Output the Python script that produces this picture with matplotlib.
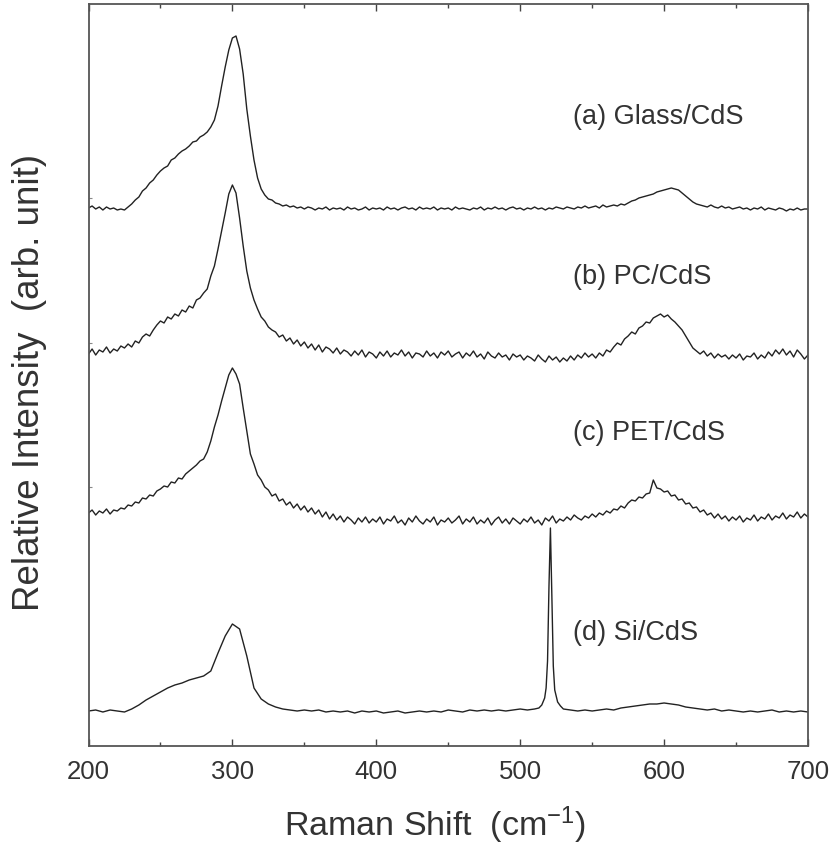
import numpy as np
import matplotlib
matplotlib.use("Agg")
import matplotlib.pyplot as plt
from matplotlib.ticker import MultipleLocator

plt.rcParams['font.family'] = ['Liberation Sans', 'DejaVu Sans']
plt.rcParams['mathtext.default'] = 'regular'

# raman shift grid (cm-1) for the three noisy spectra
shift = np.arange(200, 700.1, 2.5)

# (a) Glass/CdS, relative intensity (offset for stacking)
glass = [538, 540, 537, 539, 536, 539, 537, 538, 536, 537, 536, 539, 542, 546, 549, 555, 558, 563, 566, 571,
         575, 578, 580, 586, 588, 592, 595, 597, 600, 604, 605, 609, 611, 614, 619, 626, 640, 660, 679, 696,
         708, 710, 697, 672, 637, 610, 586, 568, 557, 551, 547, 546, 543, 542, 540, 541, 539, 540, 538, 539,
         537, 539, 538, 536, 538, 537, 539, 536, 538, 537, 538, 536, 539, 537, 538, 536, 537, 539, 536, 538,
         537, 538, 536, 539, 537, 538, 536, 538, 539, 537, 538, 536, 539, 537, 538, 537, 539, 536, 538, 537,
         538, 536, 539, 537, 538, 537, 536, 538, 537, 539, 536, 538, 537, 539, 537, 538, 536, 538, 539, 537,
         538, 536, 538, 537, 539, 537, 538, 536, 538, 537, 539, 538, 537, 539, 538, 537, 539, 538, 540, 538,
         539, 540, 538, 541, 539, 540, 541, 540, 542, 541, 543, 545, 546, 548, 549, 550, 551, 552, 554, 555,
         556, 557, 558, 557, 556, 553, 550, 547, 544, 542, 541, 540, 539, 541, 539, 538, 540, 538, 539, 537,
         538, 539, 537, 538, 536, 538, 537, 539, 536, 538, 537, 536, 538, 537, 535, 537, 536, 538, 536, 537,
         537]

# (b) PC/CdS
pc = [392, 397, 391, 396, 394, 399, 393, 397, 395, 400, 398, 402, 399, 405, 403, 409, 412, 410, 416, 421,
      425, 423, 429, 427, 432, 430, 436, 434, 440, 438, 446, 448, 453, 457, 470, 480, 497, 515, 533, 552,
      561, 553, 528, 500, 475, 458, 446, 437, 429, 425, 419, 416, 414, 409, 411, 405, 408, 402, 406, 400,
      404, 398, 402, 396, 401, 394, 399, 397, 393, 398, 392, 396, 394, 390, 395, 391, 396, 389, 394, 392,
      388, 394, 390, 395, 389, 393, 391, 396, 390, 394, 388, 393, 392, 389, 395, 390, 393, 388, 394, 391,
      395, 389, 392, 394, 388, 393, 390, 395, 389, 392, 387, 394, 390, 388, 393, 389, 391, 386, 392, 389,
      391, 386, 390, 388, 385, 391, 387, 384, 390, 386, 389, 384, 388, 385, 390, 386, 391, 388, 393, 389,
      392, 388, 393, 390, 396, 394, 399, 403, 401, 407, 410, 414, 412, 418, 420, 424, 423, 428, 430, 432,
      429, 431, 427, 424, 420, 416, 410, 404, 398, 395, 392, 395, 390, 393, 388, 392, 389, 391, 387, 391,
      388, 392, 386, 390, 389, 393, 387, 391, 388, 394, 390, 396, 392, 397, 391, 395, 389, 396, 392, 387,
      391]

# (c) PET/CdS
pet = [233, 236, 231, 235, 233, 237, 232, 236, 235, 238, 237, 241, 240, 244, 243, 248, 247, 251, 250, 255,
       257, 260, 259, 264, 263, 268, 267, 272, 275, 278, 281, 285, 287, 294, 305, 319, 331, 345, 358, 371,
       378, 372, 362, 338, 315, 292, 282, 271, 266, 259, 256, 250, 252, 245, 247, 241, 244, 238, 242, 236,
       240, 234, 238, 232, 236, 229, 234, 227, 232, 226, 230, 224, 229, 226, 222, 228, 224, 229, 223, 227,
       224, 229, 222, 227, 225, 230, 223, 226, 221, 228, 224, 230, 225, 222, 227, 224, 229, 221, 226, 224,
       228, 223, 226, 230, 222, 227, 224, 229, 222, 226, 223, 228, 221, 226, 229, 223, 227, 222, 228, 225,
       222, 227, 224, 229, 223, 226, 221, 228, 225, 230, 223, 227, 225, 229, 226, 231, 228, 226, 230, 228,
       232, 229, 233, 231, 235, 233, 237, 236, 240, 238, 243, 246, 245, 249, 248, 252, 253, 266, 258, 257,
       254, 255, 250, 251, 246, 247, 242, 243, 238, 239, 234, 236, 231, 233, 228, 232, 227, 230, 225, 229,
       226, 230, 224, 228, 226, 231, 225, 229, 227, 232, 226, 230, 228, 233, 227, 231, 229, 234, 228, 232,
       229]

# (d) Si/CdS, sampled finer around the Si line at 521
si_shift = [200, 205, 210, 215, 220, 225, 230, 235, 240, 245, 250, 255, 260, 265, 270, 275, 280, 285, 290, 295,
            300, 305, 310, 315, 320, 325, 330, 335, 340, 345, 350, 355, 360, 365, 370, 375, 380, 385, 390, 395,
            400, 405, 410, 415, 420, 425, 430, 435, 440, 445, 450, 455, 460, 465, 470, 475, 480, 485, 490, 495,
            500, 505, 510, 513, 515, 517, 518, 519, 520, 521, 522, 523, 524, 526, 528, 530,
            535, 540, 545, 550, 555, 560, 565, 570, 575, 580, 585, 590, 595, 600, 605, 610, 615, 620, 625, 630,
            635, 640, 645, 650, 655, 660, 665, 670, 675, 680, 685, 690, 695, 700]
si = [35, 36, 34, 36, 35, 34, 37, 41, 46, 50, 54, 58, 61, 63, 66, 68, 70, 75, 93, 110,
      122, 117, 90, 58, 47, 42, 39, 37, 36, 35, 36, 35, 36, 34, 35, 34, 35, 33, 35, 34,
      35, 33, 34, 35, 33, 34, 35, 34, 35, 34, 36, 35, 34, 36, 35, 36, 35, 36, 35, 36,
      37, 36, 37, 38, 41, 48, 58, 85, 160, 218, 150, 80, 56, 44, 40, 37,
      36, 35, 36, 35, 36, 37, 36, 38, 39, 40, 41, 42, 42, 43, 42, 41, 39, 38, 37, 36,
      37, 35, 36, 35, 34, 35, 34, 35, 36, 34, 35, 34, 35, 34]

labels = ['(a) Glass/CdS', '(b) PC/CdS', '(c) PET/CdS', '(d) Si/CdS']
label_y = [629, 469, 313, 113]

fig = plt.figure(figsize=(8.33, 8.55), dpi=100)
ax = fig.add_axes([88.5/833, 1 - 746/855, 719.5/833, 742/855])

line_color = '#222222'
ax.plot(shift, glass, color=line_color, lw=1.0)
ax.plot(shift, pc, color=line_color, lw=1.0)
ax.plot(shift, pet, color=line_color, lw=1.0)
ax.plot(si_shift, si, color=line_color, lw=1.0)

for txt, yy in zip(labels, label_y):
    ax.text(536.5, yy, txt, fontsize=19.5, color='#333333', ha='left', va='center')

ax.set_xlim(200, 700)
ax.set_ylim(0, 742)

ax.xaxis.set_major_locator(MultipleLocator(100))
ax.xaxis.set_minor_locator(MultipleLocator(50))
ax.set_yticks([259, 403, 548])
ax.set_yticklabels([])
ax.tick_params(axis='x', which='both', direction='in', top=True, bottom=True,
               labelsize=18.5, labelcolor='#333333', color='#444444', pad=10)
ax.tick_params(axis='x', which='major', length=5, width=1)
ax.tick_params(axis='x', which='minor', length=3, width=1)
ax.tick_params(axis='y', which='both', direction='in', length=2, width=0.8, color='#888888')

for sp in ax.spines.values():
    sp.set_color('#555555')
    sp.set_linewidth(1.3)

fig.text(435.5/833, 1 - 825/855, 'Raman Shift  (cm$^{-1}$)', fontsize=24.5,
         color='#333333', ha='center', va='center')
fig.text(30/833, 1 - 382.5/855, 'Relative Intensity  (arb. unit)', fontsize=26.5,
         color='#333333', ha='center', va='center', rotation=90)

fig.savefig('out.png', dpi=100)
